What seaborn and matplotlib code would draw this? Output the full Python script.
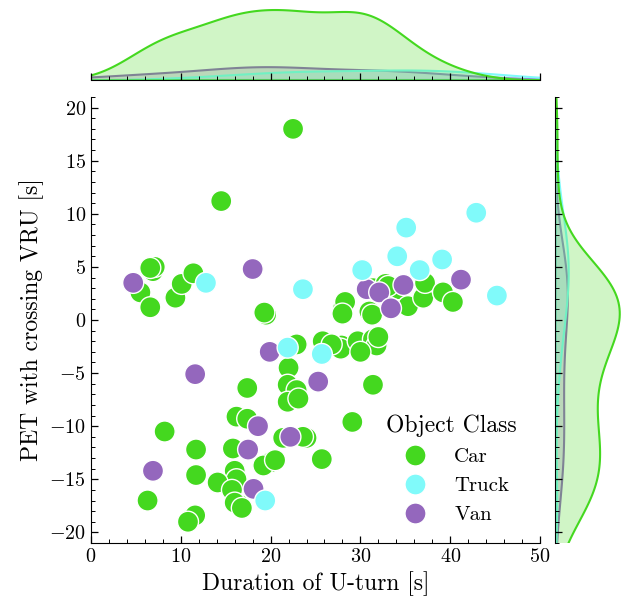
import pandas as pd
import matplotlib
matplotlib.use('Agg')
import matplotlib.pyplot as plt
import seaborn as sns
from matplotlib.ticker import MultipleLocator

# Values
# cars hidden under other markers in the dense clusters
hidden_car_x = [28.1, 31.0, 30.0, 31.6, 27.9, 22.3, 22.2, 16.0, 16.1, 16.5,
                11.2, 6.8, 23.8, 20.0, 19.5, 29.5, 33.0, 31.4, 32.8, 34.3, 6.9]
hidden_car_y = [1.2, 0.8, -2.6, -2.1, -2.4, -6.4, -7.3, -15.5, -14.6, -17.4,
                -18.7, 5.0, -11.1, -13.4, 0.5, -2.4, 2.8, 3.0, 3.4, 2.9, 4.6]

car_x = [22.5, 14.5, 7.1, 6.6, 5.5, 6.6, 9.4, 10.1, 11.4, 19.3, 28.3, 28.0, 31.3,
         33.1, 35.3, 37.0, 37.2, 39.2, 40.3, 25.8, 27.8, 29.7, 31.4, 31.8, 30.0,
         22.9, 22.0, 21.9, 22.9, 21.9, 23.1, 31.4, 29.1, 24.0, 23.6, 21.4, 25.7,
         17.4, 8.2, 6.3, 11.7, 11.7, 11.6, 10.8, 16.2, 17.4, 15.8, 19.2, 20.5,
         16.0, 16.2, 14.1, 15.7, 16.0, 16.8, 32.0, 26.8]
car_y = [18.0, 11.2, 5.0, 4.9, 2.6, 1.2, 2.1, 3.4, 4.4, 0.7, 1.7, 0.6, 0.5,
         3.2, 1.3, 2.1, 3.5, 2.6, 1.7, -2.0, -2.7, -2.0, -1.8, -2.4, -3.0,
         -2.3, -4.5, -6.1, -6.6, -7.7, -7.4, -6.1, -9.6, -11.1, -11.0, -11.1, -13.1,
         -6.4, -10.5, -17.0, -12.2, -14.6, -18.4, -19.0, -9.1, -9.3, -12.1, -13.7, -13.2,
         -14.2, -15.0, -15.3, -16.0, -17.2, -17.7, -1.6, -2.3]

truck_x = [12.8, 23.6, 30.2, 34.1, 42.9, 35.1, 39.1, 36.6, 45.2, 21.9, 25.7, 19.4]
truck_y = [3.5, 2.9, 4.7, 6.0, 10.1, 8.7, 5.7, 4.7, 2.3, -2.6, -3.2, -17.0]

van_x = [4.7, 18.0, 19.9, 30.7, 32.1, 33.4, 34.8, 41.2, 11.6, 6.9, 18.6, 22.2,
         17.5, 18.1, 25.3]
van_y = [3.5, 4.8, -3.0, 2.9, 2.6, 1.1, 3.3, 3.8, -5.1, -14.2, -10.0, -11.0,
         -12.2, -15.9, -5.8]

classes = ['Car', 'Truck', 'Van']
colors = ['#44d81f', '#80fafa', '#9467bd']

df = pd.concat([
    pd.DataFrame({'x': hidden_car_x, 'y': hidden_car_y, 'Object Class': 'Car'}),
    pd.DataFrame({'x': car_x, 'y': car_y, 'Object Class': 'Car'}),
    pd.DataFrame({'x': van_x, 'y': van_y, 'Object Class': 'Van'}),
    pd.DataFrame({'x': truck_x, 'y': truck_y, 'Object Class': 'Truck'}),
], ignore_index=True)

plt.rcParams['font.family'] = 'serif'
plt.rcParams['font.serif'] = ['cmr10']
plt.rcParams['mathtext.fontset'] = 'cm'
plt.rcParams['axes.formatter.use_mathtext'] = True
plt.rcParams['axes.unicode_minus'] = True

g = sns.jointplot(data=df, x='x', y='y', hue='Object Class', hue_order=classes,
                  palette=dict(zip(classes, colors)), s=230, edgecolor='white',
                  linewidth=1, alpha=1, height=6,
                  marginal_kws=dict(linewidth=1.5))

fig = g.figure
fig.set_size_inches(6.24, 6.05)
W, H = 624, 605
g.ax_joint.set_position([91 / W, (H - 543) / H, 449 / W, 446 / H])
g.ax_marg_x.set_position([91 / W, (H - 80) / H, 449 / W, 74 / H])
g.ax_marg_y.set_position([555 / W, (H - 543) / H, 68 / W, 446 / H])

ax = g.ax_joint
ax.set_xlim(0, 50)
ax.set_ylim(-21, 21)
ax.xaxis.set_major_locator(MultipleLocator(10))
ax.xaxis.set_minor_locator(MultipleLocator(2))
ax.yaxis.set_major_locator(MultipleLocator(5))
ax.yaxis.set_minor_locator(MultipleLocator(1))
ax.set_xlabel('Duration of U-turn [s]', fontsize=17)
ax.set_ylabel('PET with crossing VRU [s]', fontsize=17)

for a in [g.ax_joint, g.ax_marg_x, g.ax_marg_y]:
    a.tick_params(which='both', direction='in', labelsize=14.5)
    a.tick_params(which='major', length=5, width=0.9)
    a.tick_params(which='minor', length=3, width=0.7)
g.ax_marg_x.tick_params(axis='y', which='both', left=False)
g.ax_marg_y.tick_params(axis='x', which='both', bottom=False)

sns.move_legend(ax, 'lower right', bbox_to_anchor=(0.99, 0.0), frameon=False,
                title='Object Class', fontsize=15, title_fontsize=17,
                labelspacing=0.5, handletextpad=0.9)

plt.savefig('out.png', dpi=100)
